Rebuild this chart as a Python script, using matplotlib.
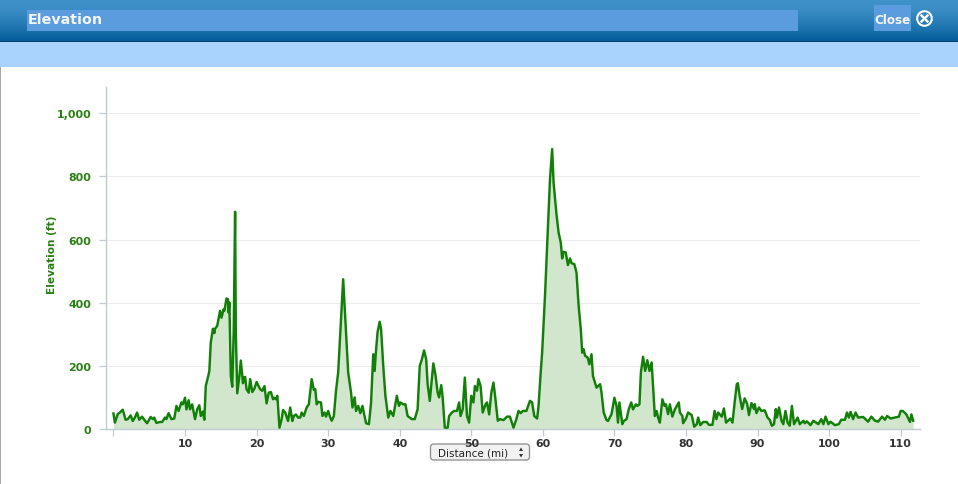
import numpy as np
import matplotlib
matplotlib.use("Agg")
import matplotlib.pyplot as plt
from matplotlib.patches import Rectangle, FancyBboxPatch, Circle, Polygon

plt.rcParams['font.family'] = ['DejaVu Sans']

miles_a = [0.0,0.2,0.6,0.9,1.3,1.7,2.0,2.4,2.7,3.0,3.3,3.6,4.0,4.3,4.7,5.2,5.5,5.7,6.0,6.5,6.8,7.2,7.4,7.7,8.1,8.5,8.8,9.1,9.5,9.7,10.0,10.2,10.5,10.7,11.0,11.4,11.7,12.0,12.2,12.5,12.7,12.9,13.3,13.4,13.6,13.9,14.1,14.2,14.5,14.9,15.1,15.4,15.5,15.8,16.0,16.1,16.2,16.4,16.6,16.8,17.0,17.1,17.3,17.6,17.8,18.1,18.2,18.4,18.6,18.9,19.1,19.4,19.7,20.0,20.5,20.8,21.1,21.4,21.7,22.0,22.3,22.5,22.7,22.9,23.2,23.5,23.7,24.0,24.3,24.4,24.7,25.0,25.2,25.5,25.8]
feet_a = [48,19,46,51,60,28,30,42,24,35,51,28,38,28,17,37,30,35,18,21,21,35,30,49,30,32,72,56,83,77,98,61,90,61,77,30,61,74,40,54,28,135,172,183,273,317,303,317,326,374,352,379,374,413,411,368,400,167,133,305,688,305,112,167,216,144,162,164,125,114,157,116,127,148,125,120,135,80,114,116,93,98,93,104,3,30,59,51,30,24,67,24,40,45,35]

miles_b = [26.1,26.3,26.6,27.0,27.3,27.7,28.0,28.2,28.4,28.6,29.0,29.2,29.5,29.7,30.0,30.3,30.5,30.8,31.1,31.4,31.8,32.1,32.4,32.8,33.2,33.4,33.7,33.9,34.2,34.5,34.8,35.0,35.3,35.7,36.0,36.3,36.5,36.65,36.9,37.2,37.4,37.7,38.0,38.4,38.7,39.1,39.6,39.9,40.1,40.5,40.8,41.1,41.7,42.1,42.5,42.8,43.1,43.4,43.7,43.9,44.2,44.7,45.0,45.3,45.5,45.8,46.0,46.3,46.7,46.9,47.3,47.6,48.0,48.3,48.5,48.8,49.1,49.4,49.7,50.0,50.3,50.5,50.8,51.0,51.3,51.6,52.0,52.2,52.5,52.8,53.1,53.3,53.7,54.0,54.5,55.0,55.4,55.9,56.3,56.6,56.9,57.2,57.7,58.2,58.5,58.8]
feet_b = [35,51,40,67,77,157,123,125,77,85,83,40,51,38,56,35,25,40,120,178,347,474,345,178,114,67,99,56,72,49,72,49,17,14,83,236,183,236,305,339,315,199,104,35,56,40,104,72,83,77,77,40,30,30,61,199,220,248,220,141,88,207,170,114,99,138,99,3,3,40,51,56,56,83,40,61,162,40,19,104,83,135,120,157,135,51,77,83,45,114,146,109,25,30,27,38,38,3,30,56,49,56,56,88,83,40]

miles_c = [59.2,59.4,59.7,59.9,60.3,60.6,61.0,61.3,61.5,61.9,62.2,62.5,62.7,62.9,63.2,63.5,63.8,64.0,64.4,64.7,65.0,65.3,65.5,65.7,65.9,66.25,66.5,66.8,67.0,67.5,68.0,68.2,68.5,68.9,69.1,69.6,70.0,70.3,70.5,70.7,71.1,71.3,71.7,72.0,72.35,72.6,73.0,73.2,73.5,73.7,74.0,74.3,74.6,74.9,75.2,75.4,75.65,75.9,76.1,76.35,76.7,77.0,77.2,77.5,77.75,78.1,78.45,79.0,79.15,79.5,79.6,80.0,80.3,80.8,81.15,81.5,81.7,82.0,82.4,82.9,83.2,83.7,84.0,84.25,84.5]
feet_c = [32,72,178,241,421,580,792,887,781,681,622,591,540,561,559,519,540,525,522,495,390,316,241,252,231,226,204,236,167,130,141,114,51,27,24,46,98,72,19,83,14,24,30,61,83,61,77,72,77,178,228,183,217,183,210,135,40,56,35,19,93,72,77,46,77,38,61,83,51,40,17,32,51,43,6,14,35,11,21,21,12,12,56,30,51]

miles_d = [85.0,85.3,85.6,86.2,86.5,86.8,87.1,87.25,87.5,87.85,88.2,88.55,88.8,89.15,89.5,89.6,89.85,90.2,90.55,91.0,91.4,91.7,92.0,92.3,92.55,92.7,93.0,93.35,93.6,93.9,94.2,94.5,94.8,95.1,95.6,95.9,96.4,96.6,96.9,97.4,97.8,98.5,98.9,99.2,99.5,99.9,100.2,100.8,101.35,101.7,102.2,102.5,102.75,103.0,103.35,103.7,104.05,104.75,105.45,105.9,106.4,106.85,107.4,107.8,108.1,108.6,109.2,109.75,110.0,110.3,110.8,111.3,111.5,111.75]
feet_d = [38,64,19,32,19,83,141,144,104,62,96,78,43,81,62,78,49,67,56,58,35,28,9,14,62,35,67,25,14,56,19,9,72,14,35,14,25,17,23,11,25,14,30,14,38,14,22,11,14,28,28,51,35,53,30,51,35,37,22,38,25,22,38,28,40,32,35,38,56,56,45,21,45,25]

x_ticks = [10,20,30,40,50,60,70,80,90,100,110]
y_ticks = [0,200,400,600,800,1000]
y_labels = ['0','200','400','600','800','1,000']
title_text = 'Elevation'
close_text = 'Close'
x_title = 'Distance (mi)'
y_title = 'Elevation (ft)'

W, H = 958, 485
fig = plt.figure(figsize=(W/100, H/100), dpi=100, facecolor='white')

def fx(p): return p / W
def fy(p): return 1 - p / H

bg = fig.add_axes([0, 0, 1, 1], zorder=0)
bg.axis('off')
grad = np.linspace(0, 1, 43)[:, None, None]
top = np.array([0x40, 0x92, 0xCA])[None, None, :] / 255
bot = np.array([0x00, 0x5A, 0x96])[None, None, :] / 255
bg.imshow(top * (1 - grad**1.6) + bot * grad**1.6, extent=(0, W, 43, 0), aspect='auto', zorder=1)
bg.set_xlim(0, W); bg.set_ylim(H, 0)
bg.add_patch(Rectangle((0, 42), W, 1.3, color='#003F70', zorder=2, lw=0))
bg.add_patch(Rectangle((0, 43.3), W, 24.9, color='#A9D2FD', zorder=2, lw=0))
bg.add_patch(Rectangle((0, 68.2), 1, H - 68.2, color='#AAAAAA', zorder=2, lw=0))
bg.add_patch(Rectangle((27, 11), 771, 21, color='#5A9CDE', zorder=2, lw=0))
bg.add_patch(Rectangle((874, 6), 37, 26, color='#5A9CDE', zorder=2, lw=0))
bg.text(28, 20, title_text, color='#F4F8FC', fontsize=10.3, fontweight='bold', va='center', ha='left', zorder=3)
bg.text(874.5, 20, close_text, color='#F4F8FC', fontsize=8.6, fontweight='bold', va='center', ha='left', zorder=3)
bg.add_patch(Circle((924.5, 19.5), 7.3, fc='none', ec='white', lw=1.5, zorder=3))
bg.plot([921.5, 927.5], [16.5, 22.5], color='white', lw=1.7, zorder=3)
bg.plot([921.5, 927.5], [22.5, 16.5], color='white', lw=1.7, zorder=3)

bg.add_patch(FancyBboxPatch((430.5, 445), 99, 16, boxstyle='round,pad=0,rounding_size=3', fc='#F2F2F2', ec='#8A8A8A', lw=0.9, zorder=3))
bg.text(438, 454, x_title, color='#222222', fontsize=7.5, va='center', ha='left', zorder=4)
bg.add_patch(Polygon([[519, 452], [523, 452], [521, 448.5]], color='#333333', lw=0, zorder=4))
bg.add_patch(Polygon([[519, 455], [523, 455], [521, 458.5]], color='#333333', lw=0, zorder=4))

L, R, T, B = 105.5, 920, 88, 429.6
ax = fig.add_axes([fx(L), fy(B), (R - L) / W, (B - T) / H], zorder=2)
ax.patch.set_alpha(0)
miles = np.array(miles_a + miles_b + miles_c + miles_d)
feet = np.array(feet_a + feet_b + feet_c + feet_d)
ax.set_xlim(-1.11, 112.7)
ax.set_ylim(0, 1084)
ax.fill_between(miles, feet, 0, color='#D2E6CE', lw=0, zorder=2)
ax.plot(miles, feet, color='#128008', lw=1.75, solid_joinstyle='round', zorder=3)
ax.set_yticks(y_ticks, y_labels)
ax.set_xticks(x_ticks, [str(v) for v in x_ticks])
ax.set_xticks([0], minor=True)
ax.grid(axis='y', color='#EDEDED', lw=0.8, zorder=1)
ax.set_axisbelow(True)
for s in ('top', 'right'):
    ax.spines[s].set_visible(False)
for s in ('left', 'bottom'):
    ax.spines[s].set_color('#C0CCD4')
    ax.spines[s].set_linewidth(1)
ax.tick_params(axis='y', colors='#C0CCD4', labelcolor='#2A8015', length=5, width=0.9, pad=5)
ax.tick_params(axis='x', colors='#C0CCD4', labelcolor='#333333', length=5, width=0.9, pad=2)
ax.tick_params(axis='x', which='minor', length=5, width=0.9, colors='#C0CCD4')
for t in ax.get_yticklabels() + ax.get_xticklabels():
    t.set_fontweight('bold'); t.set_fontsize(7.9)
bg.text(52, 255, y_title, color='#2A8015', fontsize=7.6, fontweight='bold', rotation=90, va='center', ha='center', zorder=4)

fig.savefig('out.png', dpi=100, facecolor='white')
